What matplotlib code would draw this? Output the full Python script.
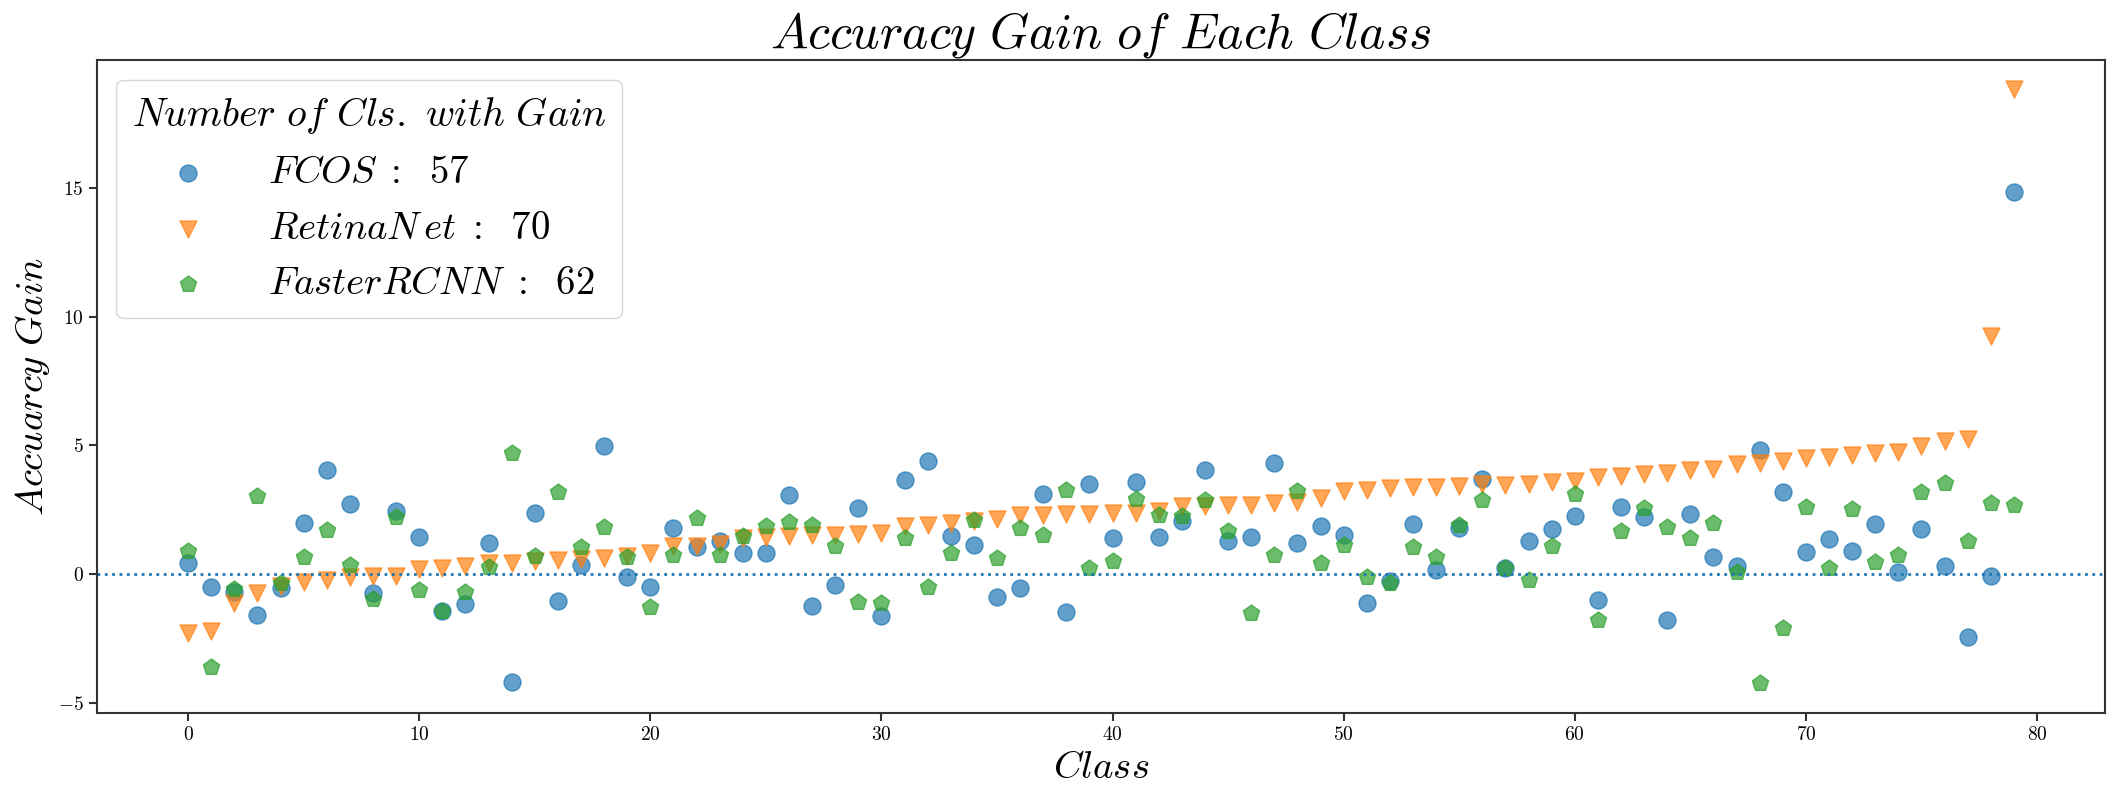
import matplotlib
matplotlib.use("Agg")
import matplotlib.pyplot as plt
import numpy as np

plt.rcParams['mathtext.fontset'] = 'cm'
plt.rcParams['font.family'] = ['cmr10', 'DejaVu Serif']
plt.rcParams['axes.formatter.use_mathtext'] = True
plt.rcParams['axes.unicode_minus'] = True

classes = list(range(80))

fcos = [0.45, -0.49, -0.71, -1.60, -0.56, 2.00, 4.05, 2.72, -0.74, 2.44,
        1.43, -1.45, -1.16, 1.21, -4.19, 2.37, -1.04, 0.35, 4.96, -0.10,
        -0.52, 1.79, 1.04, 1.30, 0.82, 0.82, 3.08, -1.23, -0.43, 2.57,
        -1.63, 3.66, 4.41, 1.47, 1.14, -0.91, -0.54, 3.11, -1.47, 3.50,
        1.40, 3.59, 1.45, 2.05, 4.05, 1.27, 1.43, 4.32, 1.21, 1.88,
        1.53, -1.13, -0.26, 1.95, 0.17, 1.79, 3.70, 0.22, 1.30, 1.75,
        2.27, -1.01, 2.62, 2.23, -1.78, 2.34, 0.65, 0.32, 4.83, 3.20,
        0.86, 1.38, 0.89, 1.95, 0.07, 1.76, 0.31, -2.45, -0.07, 14.86]

retinanet = [-2.30, -2.22, -1.13, -0.73, -0.47, -0.32, -0.23, -0.13, -0.07, -0.06,
             0.19, 0.23, 0.32, 0.42, 0.45, 0.51, 0.53, 0.57, 0.62, 0.72,
             0.83, 1.10, 1.08, 1.15, 1.40, 1.45, 1.47, 1.50, 1.53, 1.57,
             1.60, 1.88, 1.92, 1.98, 2.08, 2.14, 2.30, 2.30, 2.33, 2.33,
             2.36, 2.38, 2.46, 2.66, 2.66, 2.69, 2.70, 2.76, 2.79, 2.94,
             3.22, 3.27, 3.33, 3.40, 3.38, 3.43, 3.49, 3.46, 3.50, 3.57,
             3.63, 3.79, 3.83, 3.89, 3.93, 4.05, 4.09, 4.28, 4.32, 4.40,
             4.50, 4.55, 4.63, 4.71, 4.75, 4.99, 5.16, 5.24, 9.26, 18.85]

faster_rcnn = [0.91, -3.60, -0.58, 3.05, -0.35, 0.65, 1.73, 0.36, -0.97, 2.23,
               -0.62, -1.43, -0.71, 0.26, 4.71, 0.69, 3.20, 1.04, 1.82, 0.65,
               -1.27, 0.75, 2.17, 0.75, 1.49, 1.88, 2.01, 1.92, 1.10, -1.10,
               -1.14, 1.40, -0.52, 0.82, 2.11, 0.61, 1.78, 1.52, 3.28, 0.22,
               0.52, 2.92, 2.30, 2.25, 2.89, 1.69, -1.53, 0.74, 3.24, 0.43,
               1.14, -0.13, -0.35, 1.04, 0.67, 1.91, 2.89, 0.23, -0.22, 1.10,
               3.11, -1.78, 1.66, 2.56, 1.82, 1.39, 1.97, 0.09, -4.22, -2.08,
               2.61, 0.23, 2.53, 0.48, 0.76, 3.19, 3.55, 1.30, 2.78, 2.69]

labels = [r'$FCOS\;:\;\ 57$', r'$RetinaN\,et\;:\;\ 70$', r'$FasterRCNN\;:\;\ 62$']

fig = plt.figure(figsize=(21.2, 8.02), dpi=100)
ax = fig.add_axes([0.0457, 0.111, 0.9473, 0.814])

ax.scatter(classes, fcos, s=150, marker='o', alpha=0.7, label=labels[0])
ax.scatter(classes, retinanet, s=150, marker='v', alpha=0.7, label=labels[1])
ax.scatter(classes, faster_rcnn, s=150, marker='p', alpha=0.7, label=labels[2])
ax.axhline(0, linestyle=':', linewidth=2, color='tab:blue')
ax.set_ylim(-5.4, 19.98)

for sp in ax.spines.values():
    sp.set_color('0.2')
    sp.set_linewidth(1.5)
ax.tick_params(axis='both', labelsize=14, color='0.2', width=1.5, length=6)

ax.set_title(r'$Accuracy\ Gain\ of\ Each\ Class$', fontsize=36)
ax.set_xlabel(r'$Class$', fontsize=28)
ax.set_ylabel(r'$Accuarcy\ Gain$', fontsize=28)

leg = ax.legend(loc='upper left', title=r'$Number\ of\ Cls.\ with\ Gain$',
                fontsize=28, title_fontsize=28.6, handlelength=2.3,
                handletextpad=0.9)

fig.savefig('out.png', dpi=100)
